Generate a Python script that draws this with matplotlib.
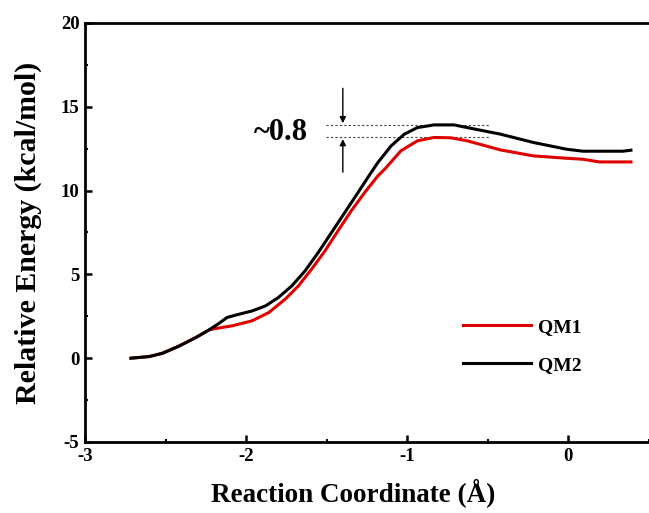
import matplotlib
matplotlib.use("Agg")
import matplotlib.pyplot as plt

# Data
qm1_x = [-2.715, -2.60, -2.518, -2.415, -2.313, -2.23, -2.19, -2.087, -1.963, -1.86,
         -1.758, -1.676, -1.594, -1.511, -1.43, -1.348, -1.265, -1.183, -1.14, -1.04,
         -0.937, -0.834, -0.73, -0.628, -0.423, -0.217, -0.012, 0.09, 0.193, 0.388]
qm1_y = [0.0, 0.1, 0.3, 0.73, 1.23, 1.69, 1.77, 1.93, 2.23, 2.72,
         3.52, 4.31, 5.31, 6.4, 7.6, 8.79, 9.88, 10.87, 11.28, 12.37,
         12.97, 13.17, 13.15, 12.97, 12.43, 12.07, 11.93, 11.87, 11.71, 11.71]

qm2_x = [-2.715, -2.60, -2.518, -2.415, -2.313, -2.23, -2.17, -2.118, -2.066, -1.963,
         -1.88, -1.80, -1.717, -1.635, -1.553, -1.47, -1.388, -1.306, -1.245, -1.183,
         -1.10, -1.018, -0.937, -0.834, -0.71, -0.628, -0.423, -0.217, -0.012, 0.09,
         0.337, 0.388]
qm2_y = [0.0, 0.1, 0.3, 0.73, 1.23, 1.69, 2.07, 2.43, 2.57, 2.82,
         3.12, 3.62, 4.31, 5.2, 6.3, 7.5, 8.69, 9.88, 10.78, 11.67,
         12.67, 13.37, 13.76, 13.92, 13.92, 13.76, 13.37, 12.87, 12.47, 12.35,
         12.35, 12.41]

series_labels = ["QM1", "QM2"]
x_ticks = [-3, -2, -1, 0]
y_ticks = [-5, 0, 5, 10, 15, 20]
peak_qm2 = 13.92
peak_qm1 = 13.17
diff_label = "~0.8"

plt.rcParams['font.family'] = ['Liberation Serif', 'DejaVu Serif']
plt.rcParams['font.weight'] = 'bold'
plt.rcParams['axes.unicode_minus'] = False

W, H = 649, 513
fig = plt.figure(figsize=(W / 100, H / 100), dpi=100)
left = 85 / W
bottom = 1 - 442 / H
top = 1 - 23 / H
ax = fig.add_axes([left, bottom, 1 - left, top - bottom])

ax.plot(qm1_x, qm1_y, color='#e00000', lw=2.2, label=series_labels[0], zorder=3)
ax.plot(qm2_x, qm2_y, color='black', lw=2.2, label=series_labels[1], zorder=4)

ax.set_xlim(-3, -3 + (W - 85) / 162.33)
ax.set_ylim(-5, 20)
ax.set_xticks(x_ticks)
ax.set_yticks(y_ticks)
ax.set_xticks([-2.5, -1.5, -0.5, 0.5], minor=True)
ax.set_yticks([-2.5, 2.5, 7.5, 12.5, 17.5], minor=True)
ax.tick_params(which='major', direction='in', length=5, width=1.8, labelsize=13.5, pad=4)
ax.tick_params(which='minor', direction='in', length=2.5, width=1.5)
for lab in ax.get_xticklabels() + ax.get_yticklabels():
    lab.set_fontweight('bold')

for s in ['left', 'bottom', 'top']:
    ax.spines[s].set_linewidth(2.0)
ax.spines['right'].set_visible(False)

ax.set_xlabel("Reaction Coordinate (Å)", fontsize=19.5, fontweight='bold')
ax.set_ylabel("Relative Energy (kcal/mol)", fontsize=21.5, fontweight='bold')
ax.xaxis.set_label_coords((353 - 85) / (W - 85), -(493 - 442) / (442 - 23), transform=ax.transAxes)
ax.yaxis.set_label_coords(-(85 - 28) / (W - 85), 0.5, transform=ax.transAxes)
ax.xaxis.label.set_va('center')
ax.yaxis.label.set_va('center')

# dashed guide lines at the two peaks
ax.plot([-1.503, -0.493], [peak_qm2, peak_qm2], ls=(0, (2, 2)), color='#444444', lw=0.8)
ax.plot([-1.503, -0.493], [peak_qm1, peak_qm1], ls=(0, (2, 2)), color='#444444', lw=0.8)

ax.annotate("", xy=(-1.40, peak_qm2 + 0.1), xytext=(-1.40, 16.1),
            arrowprops=dict(arrowstyle='-|>', color='black', lw=1.0,
                            mutation_scale=9, shrinkA=0, shrinkB=0))
ax.annotate("", xy=(-1.40, peak_qm1 - 0.1), xytext=(-1.40, 11.1),
            arrowprops=dict(arrowstyle='-|>', color='black', lw=1.0,
                            mutation_scale=9, shrinkA=0, shrinkB=0))
ax.text(-1.787, 13.45, diff_label, fontsize=22, fontweight='bold',
        ha='center', va='center')

leg = ax.legend(loc='upper left', bbox_to_anchor=(463 / W, 1 - 318 / H),
                bbox_transform=fig.transFigure, frameon=False, fontsize=14,
                handlelength=3.5, handletextpad=0.35, labelspacing=1.05,
                borderpad=0, borderaxespad=0)
for t in leg.get_texts():
    t.set_fontweight('bold')

fig.savefig("out.png", dpi=100)
